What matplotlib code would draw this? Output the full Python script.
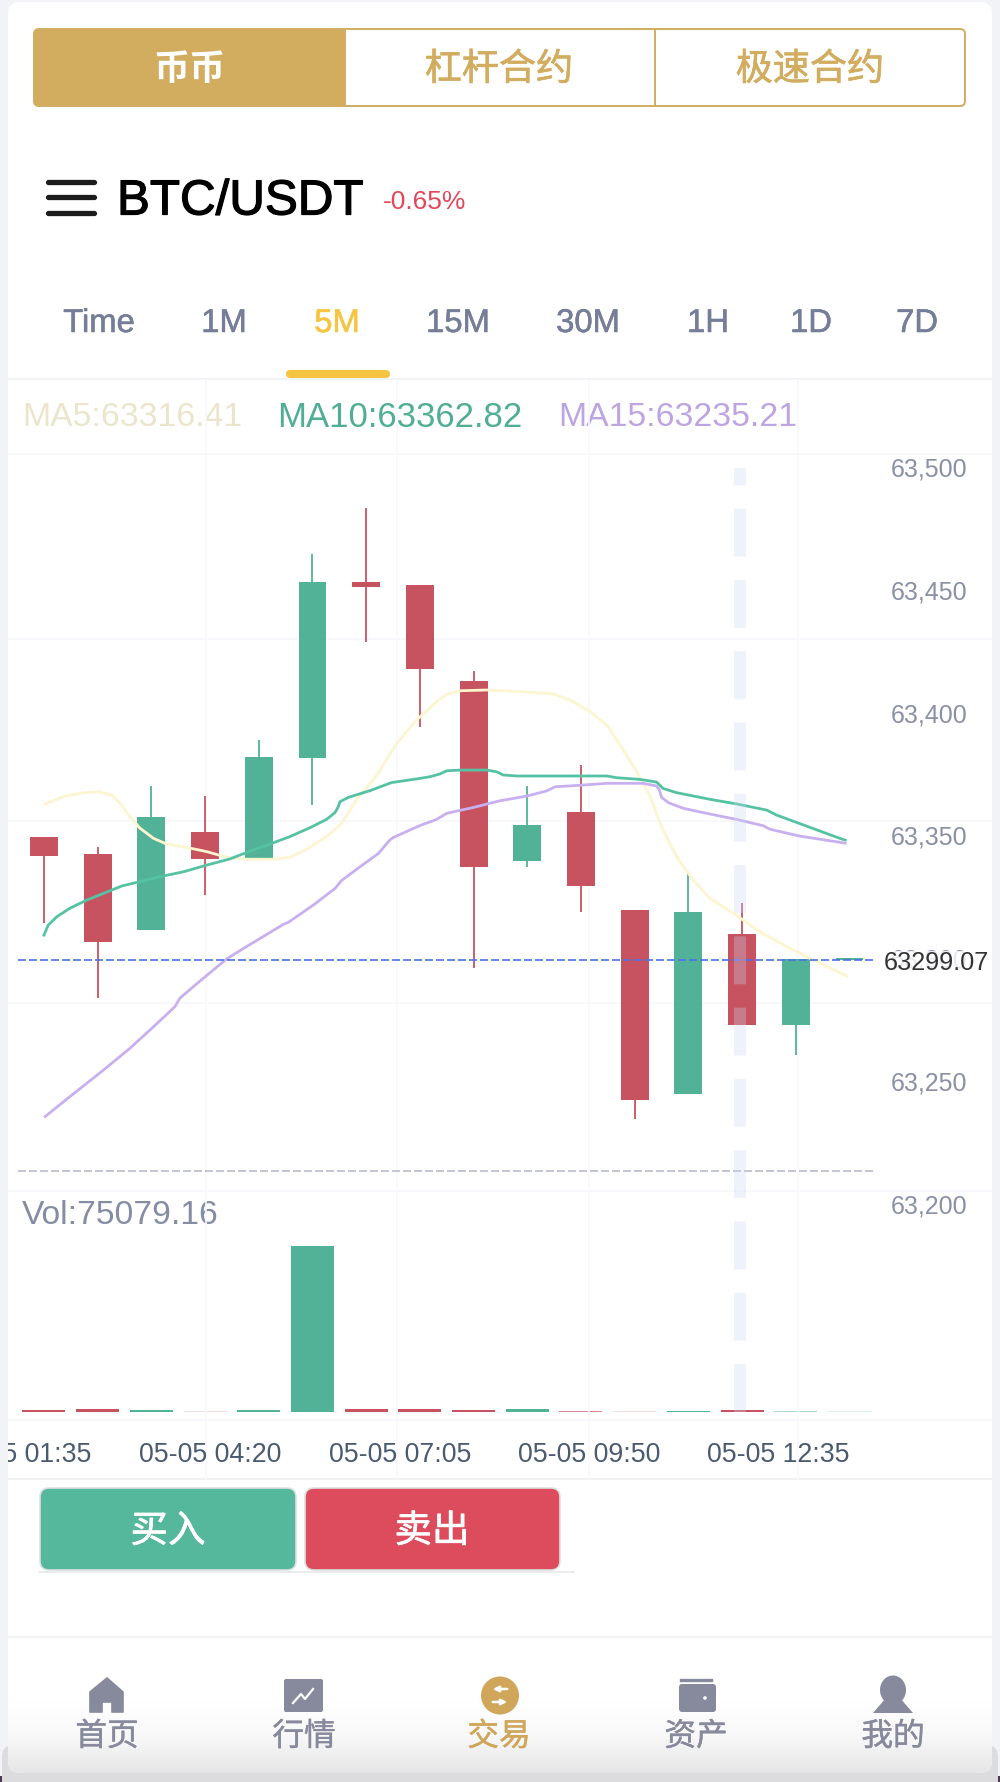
import numpy as np
import matplotlib
matplotlib.use("Agg")
import matplotlib.pyplot as plt
import matplotlib.patheffects as pe
from matplotlib.patches import FancyBboxPatch, Rectangle, Circle, Polygon, Ellipse
from matplotlib.colors import LinearSegmentedColormap

SANS = ['Liberation Sans', 'DejaVu Sans']
CJK = ['Noto Sans CJK SC', 'DejaVu Sans']

# ---- data ----
tabs = ['币币', '杠杆合约', '极速合约']
periods = ['Time', '1M', '5M', '15M', '30M', '1H', '1D', '7D']
nav_labels = ['首页', '行情', '交易', '资产', '我的']

opens = [63349.5, 63342.4, 63311.4, 63351.3, 63340.8, 63381.4, 63453.3, 63452.0,
         63413.0, 63339.6, 63359.4, 63319.8, 63244.8, 63309.7, 63272.9, 63299.07]
closes = [63341.7, 63306.6, 63357.5, 63340.4, 63382.0, 63453.3, 63451.3, 63417.8,
          63337.0, 63354.2, 63329.4, 63242.1, 63318.8, 63272.9, 63299.6, 63299.9]
highs = [63349.5, 63345.4, 63370.1, 63366.0, 63388.8, 63464.6, 63483.3, 63452.0,
         63416.9, 63370.1, 63378.7, 63319.8, 63335.2, 63322.5, 63299.6, 63299.9]
lows = [63314.5, 63283.7, 63311.4, 63325.7, 63340.8, 63362.5, 63428.9, 63394.3,
        63296.1, 63337.3, 63318.9, 63234.4, 63244.8, 63272.9, 63260.6, 63299.07]
volumes = [150000, 250000, 150000, 75000, 150000, 12025000, 250000, 200000,
           150000, 250000, 75000, 75000, 75000, 150000, 75000, 75079]
volume_alpha = [1, 1, 1, .2, 1, 1, 1, 1, 1, 1, .7, .2, 1, 1, .5, .2]

ma5_x = [.02, .36, .73, 1.04, 1.26, 1.42, 1.60, 1.79, 2.04, 2.28, 2.66, 3.03, 3.40, 3.77,
         4.27, 4.58, 4.89, 5.26, 5.54, 5.82, 6.20, 6.57, 6.94, 7.31, 7.50, 7.75, 8.24,
         8.99, 9.49, 9.80, 10.17, 10.48, 10.73, 11.04, 11.29, 11.50, 11.78, 12.09,
         12.40, 12.84, 13.33, 13.83, 14.45, 14.95]
ma5 = [63362.8, 63365.8, 63367.4, 63367.7, 63366.4, 63363.1, 63357.6, 63352.9, 63348.8,
       63346.5, 63345.1, 63343.4, 63341.1, 63340.3, 63340.3, 63341.1, 63344.3, 63349.5,
       63354.9, 63364.4, 63374.6, 63387.5, 63397.0, 63404.4, 63407.4, 63408.9, 63409.2,
       63408.4, 63407.6, 63405.1, 63400.4, 63394.9, 63386.8, 63375.9, 63365.8, 63353.5,
       63341.3, 63331.8, 63324.4, 63318.3, 63310.8, 63304.7, 63297.9, 63292.8]
ma10_x = [0, .08, .24, .48, .80, 1.11, 1.45, 1.79, 2.16, 2.60, 3.03, 3.46, 3.90, 4.27, 4.58,
          4.95, 5.26, 5.42, 5.48, 5.51, 5.67, 6.07, 6.47, 7.00, 7.19, 7.37, 7.50, 7.75,
          8.24, 8.43, 8.55, 8.80, 10.48, 10.66, 11.10, 11.41, 11.53, 11.78, 12.40, 12.90,
          13.46, 13.64, 14.82, 14.92]
ma10 = [63309.4, 63313.5, 63316.9, 63320.3, 63323.7, 63326.4, 63329.4, 63331.2, 63333.2,
        63335.2, 63337.9, 63340.4, 63344.1, 63347.0, 63349.5, 63353.1, 63356.5, 63359.3,
        63361.7, 63363.7, 63365.5, 63368.2, 63371.5, 63373.2, 63373.9, 63375.0, 63376.3,
        63376.6, 63376.6, 63375.9, 63374.6, 63374.2, 63374.2, 63373.5, 63372.8, 63371.7,
        63369.1, 63367.4, 63364.7, 63362.8, 63360.3, 63358.3, 63348.8, 63348.1]
ma15_x = [.02, .48, 1.11, 1.60, 2.04, 2.44, 2.53, 2.84, 3.40, 3.77, 4.46, 4.55, 5.02, 5.42,
          5.54, 5.89, 6.23, 6.44, 6.51, 7.00, 7.31, 7.50, 8.00, 8.49, 8.99, 9.36, 9.52,
          9.98, 10.48, 11.16, 11.41, 11.46, 11.50, 11.63, 11.91, 12.40, 12.90, 13.40,
          13.52, 14.08, 14.82, 14.92]
ma15 = [63235.5, 63243.6, 63254.5, 63263.3, 63272.1, 63280.3, 63283.7, 63289.5, 63299.7,
        63304.7, 63313.8, 63314.6, 63321.7, 63328.4, 63331.6, 63337.3, 63342.7, 63348.1,
        63349.2, 63354.0, 63356.5, 63359.0, 63361.4, 63364.1, 63366.0, 63368.1, 63369.8,
        63370.4, 63371.2, 63371.2, 63370.1, 63368.5, 63365.5, 63363.3, 63361.0, 63358.7,
        63356.5, 63353.9, 63352.5, 63349.7, 63347.2, 63346.8]

price_ticks = [63200, 63250, 63300, 63350, 63400, 63450, 63500]
time_pos = [-.44, 3.09, 6.63, 10.15, 13.68]
time_labels = ['05-05 01:35', '05-05 04:20', '05-05 07:05', '05-05 09:50', '05-05 12:35']
grid_prices = [63505.3, 63430.0, 63355.9, 63281.8, 63205.4, 63112.0]
grid_index = [3.02, 6.57, 10.15, 14.04]
last_price = 63299.07
low_line = 63213.4
cross_index = 12.97
cross_span = [63115.2, 63499.6]
line_span = [-.48, 15.45]

RED, GREEN = '#C85360', '#52B298'
GOLD = '#D2AD60'
GRID = '#F8F8FD'

W, H = 1000, 1782
fig = plt.figure(figsize=(W / 100, H / 100), dpi=100, facecolor='#F1F3F6')
ui = fig.add_axes([0, 0, 1, 1], zorder=0)
ui.axis('off')


def px(x0, y0, x1, y1):
    return [x0 / W, 1 - y1 / H, (x1 - x0) / W, (y1 - y0) / H]


def rbox(x0, y0, x1, y1, r, **kw):
    p = FancyBboxPatch((x0 + r, y0 + r), x1 - x0 - 2 * r, y1 - y0 - 2 * r,
                       boxstyle=f'round,pad={r},rounding_size={r}', **kw)
    ui.add_patch(p)
    return p


def cjk(x, y, s, size, color, stroke=0.0, **kw):
    eff = [pe.withStroke(linewidth=stroke, foreground=color)] if stroke else []
    ui.text(x, y + 3.5, s, fontsize=size, color=color, family=CJK, ha='center', va='center',
            path_effects=eff, **kw)


def latin(x, y, s, size, color, ha='left', **kw):
    return ui.text(x, y + 3.5, s, fontsize=size, color=color, family=SANS, ha=ha, va='center', **kw)


# page frame, card and bottom fade
ui.add_patch(Rectangle((0, 1776), 6, 6, fc='#4A3A52', ec='none', zorder=0))
ui.add_patch(Rectangle((994, 1776), 6, 6, fc='#4A3A52', ec='none', zorder=0))
rbox(2, 1745, 998, 1795, 12, fc='#DCDCDF', ec='none', zorder=0.2)
card = rbox(8, 2, 992, 1773, 12, fc='white', ec='none', zorder=0.5)
fade = LinearSegmentedColormap.from_list('fade', ['#FFFFFF', '#F8F8F8', '#E6E6E7'])
img = ui.imshow(np.linspace(0, 1, 80)[:, None], extent=[8, 992, 1773, 1700], cmap=fade,
                aspect='auto', zorder=1)
img.set_clip_path(card)

# top tabs
outer = rbox(34, 29, 965, 106, 5, fc='white', ec=GOLD, lw=1.4, zorder=2)
fill = Rectangle((34, 28), 312, 80, fc=GOLD, ec='none', zorder=2)
ui.add_patch(fill)
fill.set_clip_path(outer)
ui.plot([655, 655], [29, 106], color=GOLD, lw=1.4, zorder=2)
cjk(190, 66, tabs[0], 26, 'white', fontweight='bold', zorder=3)
cjk(499, 66, tabs[1], 26.7, GOLD, stroke=0.5, zorder=3)
cjk(810, 66, tabs[2], 26.7, GOLD, stroke=0.5, zorder=3)

# title row
for yy in (182, 197, 213):
    ui.plot([48, 94], [yy, yy], color='#1C1C1C', lw=3.8, solid_capstyle='round', zorder=3)
latin(117, 198.5, 'BTC/USDT', 35.5, 'black', zorder=3,
      path_effects=[pe.withStroke(linewidth=0.9, foreground='black')])
latin(383, 198.5, '-0.65%', 19, '#E0475A', zorder=3)

# period row
period_x = [99, 224, 337, 458, 588, 708, 811, 917]
for x, s in zip(period_x, periods):
    c = '#F5C542' if s == '5M' else '#757D99'
    latin(x, 320, s, 23.6, c, ha='center', zorder=3,
          path_effects=[pe.withStroke(linewidth=0.4, foreground=c)])
rbox(286, 370, 390, 378, 4, fc='#F5C542', ec='none', zorder=3)
for yy, c in ((379, '#F0F1F4'), (1479, '#EEF0F3'), (1637, '#F0F1F3')):
    ui.plot([8, 992], [yy, yy], color=c, lw=1.2, zorder=2)

# MA legend, volume label
latin(22, 414, 'MA5:63316.41', 24.3, '#EBE5CC', zorder=3)
latin(277, 414, 'MA10:63362.82', 25, '#4FAE95', zorder=3)
latin(558, 414, 'MA15:63235.21', 24.3, '#BDA4E2', zorder=3)
latin(22, 1212, 'Vol:75079.16', 24.2, '#858DA5', zorder=3)

# buttons
rbox(40, 1488, 296, 1570, 9, fc='#55B89C', ec='#DDDFE1', lw=1.2, zorder=2)
rbox(305, 1488, 560, 1570, 9, fc='#DC4C5C', ec='#DDDFE1', lw=1.2, zorder=2)
ui.plot([39, 574], [1572, 1572], color='#E6E7EA', lw=1.2, zorder=2)
cjk(168, 1528, '买入', 27, 'white', stroke=0.5, zorder=3)
cjk(432, 1528, '卖出', 27, 'white', stroke=0.5, zorder=3)

# bottom nav
NAV = '#878A9C'
nav_x = [107, 304, 499, 696, 893]
for x, s in zip(nav_x, nav_labels):
    cjk(x, 1733, s, 22.8, '#CFA65A' if s == '交易' else NAV, stroke=0.3, zorder=3)
ui.add_patch(Polygon([(107, 1678), (123, 1692), (123, 1712), (112, 1712), (112, 1702), (102, 1702),
                      (102, 1712), (90, 1712), (90, 1692)], fc=NAV, ec=NAV, lw=1.2,
                     joinstyle='round', zorder=3))
rbox(284, 1679, 323, 1712, 2, fc=NAV, ec='none', zorder=3)
ui.plot([293, 301, 305, 313], [1703, 1694, 1699, 1689], color='white', lw=1.6, zorder=4)
ui.add_patch(Ellipse((500, 1695.5), 38, 38, fc='#CFA65A', ec='none', zorder=3))
ui.annotate('', (490, 1689), (510, 1689),
            arrowprops=dict(arrowstyle='-|>', color='white', lw=1.8, mutation_scale=8), zorder=4)
ui.annotate('', (510, 1702), (490, 1702),
            arrowprops=dict(arrowstyle='-|>', color='white', lw=1.8, mutation_scale=8), zorder=4)
rbox(679, 1684, 716, 1712, 3, fc=NAV, ec='none', zorder=3)
ui.plot([681, 711], [1680, 1680], color=NAV, lw=2.4, zorder=3)
ui.add_patch(Circle((705, 1698), 1.8, fc='white', ec='none', zorder=4))
ui.add_patch(Ellipse((893, 1690), 26, 29, fc=NAV, ec='none', zorder=3))
ui.add_patch(Polygon([(886, 1698), (900, 1698), (913, 1713), (873, 1713)], fc=NAV, ec='none', zorder=3))

ui.set_xlim(0, W)
ui.set_ylim(H, 0)

# ---- volume axes ----
vol = fig.add_axes(px(8, 1182, 992, 1412), zorder=1)
vol.patch.set_visible(False)
vol.axis('off')
vol.set_xlim(-0.670, 17.654)
vol.set_ylim(0, 16700000)
for i, (v, o, c, a) in enumerate(zip(volumes, opens, closes, volume_alpha)):
    vol.bar(i, v, width=0.80, color=RED if c < o else GREEN, alpha=a, linewidth=0)

# ---- main axes ----
ax = fig.add_axes(px(8, 379, 992, 1479), zorder=2)
ax.patch.set_visible(False)
for s in ax.spines.values():
    s.set_visible(False)
ax.set_xlim(-0.670, 17.654)
ax.set_ylim(63087.95, 63535.83)
for p in grid_prices:
    ax.axhline(p, color='#F7F8FC', lw=1.4, zorder=0)
for g in grid_index:
    ax.axvline(g, color=GRID, lw=1.2, zorder=0)

for i, (o, c, h, l) in enumerate(zip(opens, closes, highs, lows)):
    col = RED if c < o else GREEN
    ax.vlines(i, l, h, color=col, lw=1.3, zorder=2)
    ax.bar(i, max(abs(c - o), 0.5), bottom=min(o, c), width=0.52, color=col, linewidth=0, zorder=3)

ax.plot(ma5_x, ma5, color='#FCF5D0', lw=2.0, zorder=4)
ax.plot(ma10_x, ma10, color='#56C2A4', lw=2.0, zorder=4)
ax.plot(ma15_x, ma15, color='#C8B0F0', lw=2.0, zorder=4)

ax.plot(line_span, [last_price, last_price], color='#4A72E8', lw=1.2, dashes=(4.8, 1.8), zorder=5)
ax.plot(line_span, [low_line, low_line], color='#B9BCC8', lw=1.2, dashes=(4.8, 1.8), zorder=5)
ax.plot([cross_index, cross_index], cross_span, color='#C9DAF5', alpha=0.3, lw=8.64,
        dashes=(4, 1.94), dash_capstyle='butt', zorder=6)

ax.yaxis.tick_right()
ax.set_yticks(price_ticks)
ax.set_yticklabels([f'{p:,}' for p in price_ticks], fontsize=18, color='#8A91A6', family=SANS, ha='right')
ax.tick_params(axis='y', length=0, pad=-18)
ax.set_xticks(time_pos)
ax.set_xticklabels(time_labels, fontsize=19.3, color='#4A5A70', family=SANS, va='center')
ax.tick_params(axis='x', length=0, pad=-17.4)
for lab in ax.get_xticklabels():
    lab.set_clip_box(ax.bbox)
    lab.set_clip_on(True)
ax.annotate(f'{last_price}', (1, last_price), xycoords=('axes fraction', 'data'), xytext=(-2, -1.6),
            textcoords='offset points', fontsize=18.2, color='#333333', family=SANS, ha='right', va='center',
            bbox=dict(fc='white', ec='none', alpha=0.8, pad=0), zorder=7)

fig.savefig('out.png', dpi=100, facecolor=fig.get_facecolor())
